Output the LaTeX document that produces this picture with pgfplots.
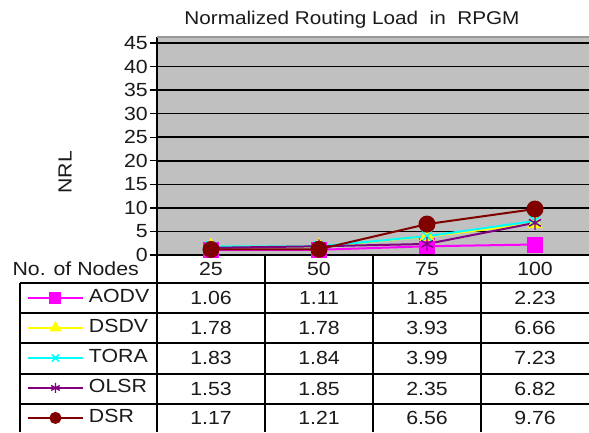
\documentclass[border=0pt]{standalone}
\usepackage{fontspec}
\setmainfont[FakeStretch=1.12]{Liberation Sans}
\usepackage{pgfplots}
\pgfplotsset{compat=1.18}
\definecolor{plotgray}{HTML}{C0C0C0}
\definecolor{aodv}{HTML}{FF00FF}
\definecolor{dsdv}{HTML}{FFFF00}
\definecolor{tora}{HTML}{00FFFF}
\definecolor{olsr}{HTML}{800080}
\definecolor{dsr}{HTML}{800000}
\definecolor{textcol}{HTML}{1A1A1A}
\newcommand{\tabfont}{\fontsize{19}{21}\selectfont}
\begin{document}
\begin{tikzpicture}[x=1pt,y=1pt]
\begin{axis}[
  at={(157pt,-255pt)}, anchor=south west,
  scale only axis, width=432pt, height=218pt,
  xmin=0, xmax=4, ymin=0, ymax=46.27,
  axis background/.style={fill=plotgray},
  axis x line*=bottom, axis y line*=left,
  axis line style={line width=1.4pt, black, -},
  ytick={0,5,...,45}, xtick=\empty,
  ymajorgrids, grid style={black, line width=1.5pt},
  tick align=outside, major tick length=7pt,
  tick style={black, line width=1.4pt},
  yticklabel style={font=\tabfont, text=textcol, inner sep=2pt},
  /pgf/number format/assume math mode=true,
  ylabel={NRL},
  ylabel style={at={(axis description cs:-0.213,0.38)}, anchor=center, font=\tabfont, text=textcol},
  clip=false,
  legend style={at={(axis description cs:-0.301,-0.128)}, anchor=north west,
    draw=none, fill=none, inner sep=0pt, outer sep=0pt, row sep=0pt, column sep=2pt,
    font=\tabfont, text=textcol,
    nodes={text height=12pt, text depth=3pt, inner ysep=7.5pt, inner xsep=3pt}},
  legend cell align=left,
  legend image code/.code={\draw[mark repeat=2, mark phase=2, #1, mark size=5pt]
     plot coordinates {(0pt,0pt) (27.5pt,0pt) (55pt,0pt)};},
]
\addplot[color=aodv, line width=2pt, mark=square*, mark size=7pt, mark options={solid}]
  coordinates {(0.5,1.06) (1.5,1.11) (2.5,1.85) (3.5,2.23)};
\addlegendentry{AODV}
\addplot[color=dsdv, line width=2pt, mark=triangle*, mark size=7pt]
  coordinates {(0.5,1.78) (1.5,1.78) (2.5,3.93) (3.5,6.66)};
\addlegendentry{DSDV}
\addplot[color=tora, line width=2pt, mark=x, mark size=7pt, mark options={line width=1.6pt}]
  coordinates {(0.5,1.83) (1.5,1.84) (2.5,3.99) (3.5,7.23)};
\addlegendentry{TORA}
\addplot[color=olsr, line width=2pt, mark=asterisk, mark size=7pt, mark options={line width=1.4pt}]
  coordinates {(0.5,1.53) (1.5,1.85) (2.5,2.35) (3.5,6.82)};
\addlegendentry{OLSR}
\addplot[color=dsr, line width=2pt, mark=*, mark size=7.5pt]
  coordinates {(0.5,1.17) (1.5,1.21) (2.5,6.56) (3.5,9.76)};
\addlegendentry{DSR}
\draw[color=gray!80, line width=1.5pt] (rel axis cs:0,1) -- (rel axis cs:1,1);
\end{axis}
% title
\node[font=\fontsize{18.5}{20}\selectfont, text=textcol] at (352,-19.5) {Normalized Routing Load\ \ in\ \ RPGM};
% table grid
\foreach \y in {283,313,343,374,404} \draw[line width=1.4pt] (20,-\y) -- (589,-\y);
\draw[line width=1.4pt] (20,-283) -- (20,-432);
\foreach \x in {157,265,373,481} \draw[line width=1.4pt] (\x,-255) -- (\x,-432);
% header
\node[font=\tabfont, text=textcol, anchor=east, inner sep=0pt] at (139,-269) {No. of Nodes};
\foreach \lab [count=\i from 0] in {25,50,75,100}
  \node[font=\tabfont, text=textcol] at (211+108*\i,-269) {\lab};
% table values
\foreach \row/\vals in {298/{1.06,1.11,1.85,2.23}, 328/{1.78,1.78,3.93,6.66},
   358/{1.83,1.84,3.99,7.23}, 389/{1.53,1.85,2.35,6.82}, 418/{1.17,1.21,6.56,9.76}} {
  \foreach \v [count=\i from 0] in \vals
    \node[font=\tabfont, text=textcol] at (211+108*\i,-\row) {\v};
}
\pgfresetboundingbox
\path[use as bounding box] (0,0) rectangle (589,-432);
\end{tikzpicture}
\end{document}
